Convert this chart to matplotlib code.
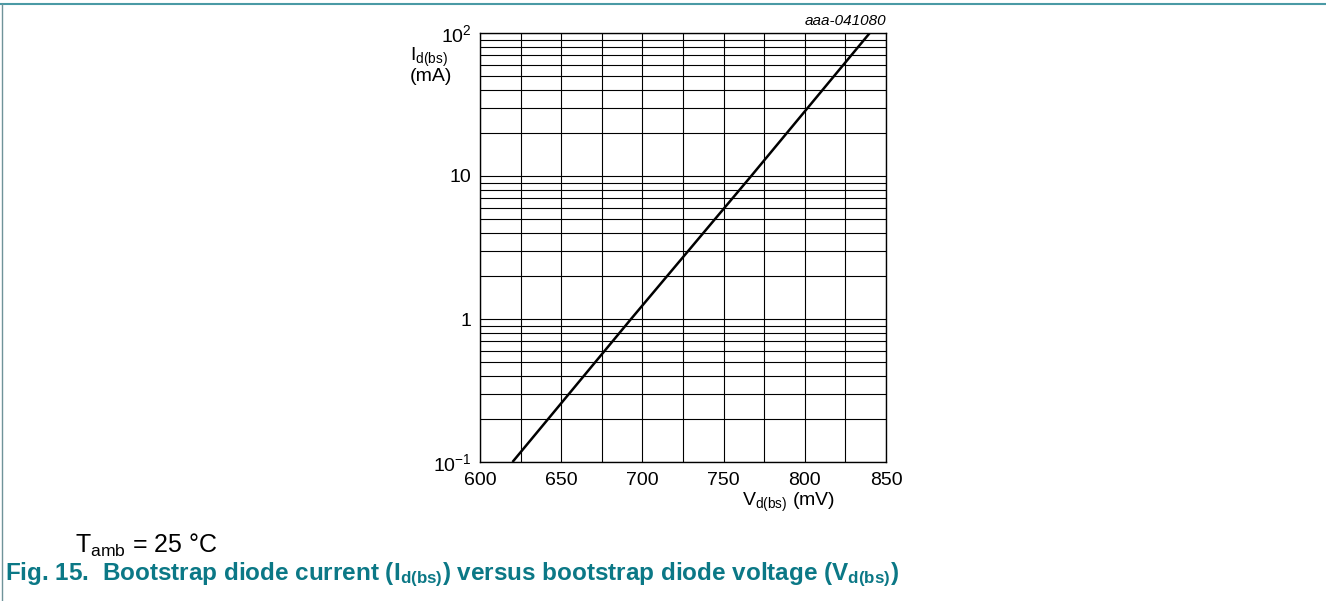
import matplotlib
matplotlib.use("Agg")
import matplotlib.pyplot as plt
from matplotlib.lines import Line2D
import numpy as np

plt.rcParams['font.family'] = ['Liberation Sans', 'DejaVu Sans']
plt.rcParams['mathtext.default'] = 'regular'

# curve (straight on the log scale)
v_mv = [620, 693, 767, 840]
i_ma = [0.1, 1, 10, 100]

x_ticks = [600, 650, 700, 750, 800, 850]
x_grid = np.arange(600, 851, 25)
y_ticks = [0.1, 1, 10, 100]
y_labels = ['10$^{-1}$', '1', '10', '10$^{2}$']

teal = '#0b7886'

fig = plt.figure(figsize=(13.26, 6.01), dpi=100)
W, H = 1326, 601
ax = fig.add_axes([480 / W, 1 - 462 / H, 406 / W, 429 / H])

ax.set_xlim(600, 850)
ax.set_ylim(0.1, 100)
ax.set_yscale('log')

ax.set_xticks(x_ticks)
ax.set_xticks(x_grid, minor=True)
ax.set_yticks(y_ticks)
ax.set_yticklabels(y_labels)
ax.tick_params(which='both', length=0, labelsize=14, pad=6)
ax.tick_params(axis='x', pad=7)
ax.tick_params(axis='y', which='minor', labelleft=False)

ax.grid(True, which='both', color='black', lw=0.8)
ax.set_axisbelow(True)
for s in ax.spines.values():
    s.set_linewidth(1.0)

ax.plot(v_mv, i_ma, color='black', lw=1.8, solid_capstyle='butt')

fig.text(886 / W, 1 - 21 / H, 'aaa-041080', ha='right', va='center',
         fontsize=11, style='italic')
fig.text(410 / W, 1 - 61 / H, 'I$_{d(bs)}$', ha='left', va='baseline', fontsize=14)
fig.text(410 / W, 1 - 81 / H, '(mA)', ha='left', va='baseline', fontsize=14)
fig.text(835 / W, 1 - 506 / H, 'V$_{d(bs)}$ (mV)', ha='right', va='baseline', fontsize=14)

fig.text(75 / W, 1 - 545 / H, 'T$_{amb}$ = 25 °C', ha='left', va='center', fontsize=18)
fig.text(5 / W, 1 - 575 / H,
         'Fig. 15.  Bootstrap diode current (I$_{d(bs)}$) versus bootstrap diode voltage (V$_{d(bs)}$)',
         ha='left', va='center', fontsize=17.5, fontweight='bold', color=teal)

# page frame lines
fig.add_artist(Line2D([0, 1], [1 - 4 / H, 1 - 4 / H], color='#4a9aa5', lw=1.5))
fig.add_artist(Line2D([2 / W, 2 / W], [0, 1 - 4 / H], color='#6f9399', lw=1.0))

fig.savefig('out.png', dpi=100)
